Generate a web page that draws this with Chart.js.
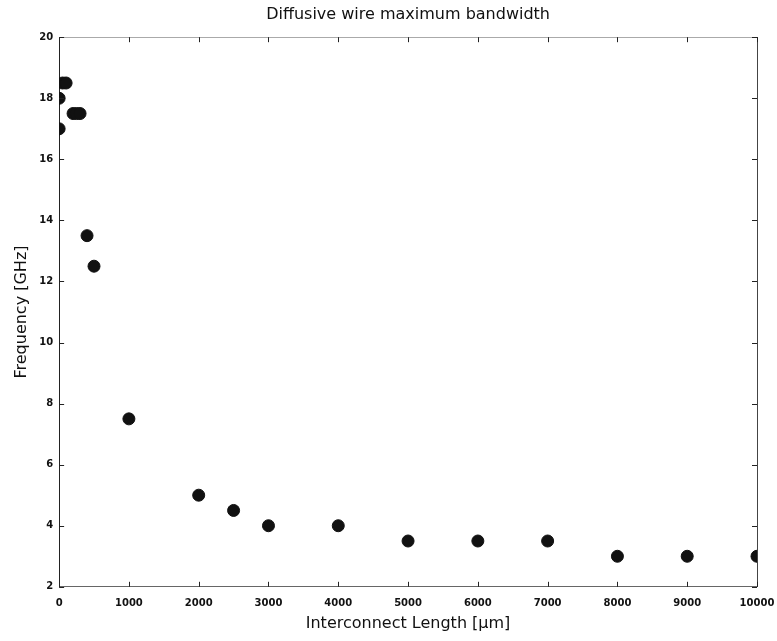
<!DOCTYPE html>
<html>
<head>
<meta charset="utf-8">
<script src="https://cdn.jsdelivr.net/npm/chart.js@4.4.1/dist/chart.umd.min.js"></script>
<style>
  html, body { margin: 0; padding: 0; background: #fff; }
</style>
</head>
<body>
<canvas id="bwChart" width="777" height="641"></canvas>
<script>
// wire length (um) vs max bandwidth (GHz)
const lengths = [0, 0, 50, 100, 200, 250, 300, 400, 500, 1000, 2000, 2500, 3000, 4000, 5000, 6000, 7000, 8000, 9000, 10000];
const freqs   = [17, 18, 18.5, 18.5, 17.5, 17.5, 17.5, 13.5, 12.5, 7.5, 5, 4.5, 4, 4, 3.5, 3.5, 3.5, 3, 3, 3];
const xTicks = [0, 1000, 2000, 3000, 4000, 5000, 6000, 7000, 8000, 9000, 10000];
const yTicks = [2, 4, 6, 8, 10, 12, 14, 16, 18, 20];

const points = lengths.map((x, i) => ({ x: x, y: freqs[i] }));

const tickFont = { family: 'DejaVu Sans', size: 10, weight: 'bold' };
const labelFont = { family: 'DejaVu Sans', size: 16 };

// matlab style ticks pointing into the box, on all four sides
const innerTicks = {
    id: 'innerTicks',
    afterDatasetsDraw(chart) {
        const { ctx, chartArea: a, scales } = chart;
        const len = 5;
        ctx.save();
        ctx.strokeStyle = '#222';
        ctx.lineWidth = 1;
        ctx.beginPath();
        xTicks.forEach(v => {
            const px = Math.round(scales.x.getPixelForValue(v)) + 0.5;
            ctx.moveTo(px, a.bottom); ctx.lineTo(px, a.bottom - len);
            ctx.moveTo(px, a.top); ctx.lineTo(px, a.top + len);
        });
        yTicks.forEach(v => {
            const py = Math.round(scales.y.getPixelForValue(v)) + 0.5;
            ctx.moveTo(a.left, py); ctx.lineTo(a.left + len, py);
            ctx.moveTo(a.right, py); ctx.lineTo(a.right - len, py);
        });
        ctx.stroke();
        ctx.restore();
    }
};

new Chart(document.getElementById('bwChart'), {
    type: 'scatter',
    data: {
        datasets: [{
            data: points,
            backgroundColor: '#111',
            borderColor: '#111',
            pointRadius: 6,
            pointHoverRadius: 6
        }]
    },
    options: {
        responsive: false,
        animation: false,
        layout: { padding: { left: 8, right: 20, top: 0, bottom: 8 } },
        plugins: {
            legend: { display: false },
            tooltip: { enabled: false },
            title: {
                display: true,
                fullSize: false,
                text: 'Diffusive wire maximum bandwidth',
                color: '#111',
                font: { family: 'DejaVu Sans', size: 16, weight: 'normal' },
                padding: { top: 5, bottom: 13 }
            }
        },
        scales: {
            x: {
                type: 'linear', min: 0, max: 10000,
                afterBuildTicks: axis => { axis.ticks = xTicks.map(v => ({ value: v })); },
                // let the last label hang into the right margin
                afterFit: axis => { axis.paddingRight = 0; },
                ticks: { color: '#111', font: tickFont, padding: 11, maxRotation: 0, callback: v => String(v) },
                grid: { drawOnChartArea: false, drawTicks: false, tickLength: 0 },
                border: { color: '#666', width: 1 },
                title: {
                    display: true, text: 'Interconnect Length [µm]', color: '#111',
                    font: labelFont, padding: { top: -7, bottom: 0 }
                }
            },
            y: {
                type: 'linear', min: 2, max: 20,
                afterBuildTicks: axis => { axis.ticks = yTicks.map(v => ({ value: v })); },
                ticks: { color: '#111', font: tickFont, padding: 6, callback: v => String(v) },
                grid: { drawOnChartArea: false, drawTicks: false, tickLength: 0 },
                border: { color: '#222', width: 1 },
                title: {
                    display: true, text: 'Frequency [GHz]', color: '#111',
                    font: labelFont, padding: { top: 4, bottom: 2 }
                }
            },
            xTop: {
                type: 'linear', position: 'top', min: 0, max: 10000,
                afterBuildTicks: axis => { axis.ticks = xTicks.map(v => ({ value: v })); },
                ticks: { display: false },
                grid: { drawOnChartArea: false, drawTicks: false, tickLength: 0 },
                border: { color: '#aaa', width: 1 }
            },
            yRight: {
                type: 'linear', position: 'right', min: 2, max: 20,
                afterBuildTicks: axis => { axis.ticks = yTicks.map(v => ({ value: v })); },
                ticks: { display: false },
                grid: { drawOnChartArea: false, drawTicks: false, tickLength: 0 },
                border: { color: '#444', width: 1 }
            }
        }
    },
    plugins: [innerTicks]
});
</script>
</body>
</html>
